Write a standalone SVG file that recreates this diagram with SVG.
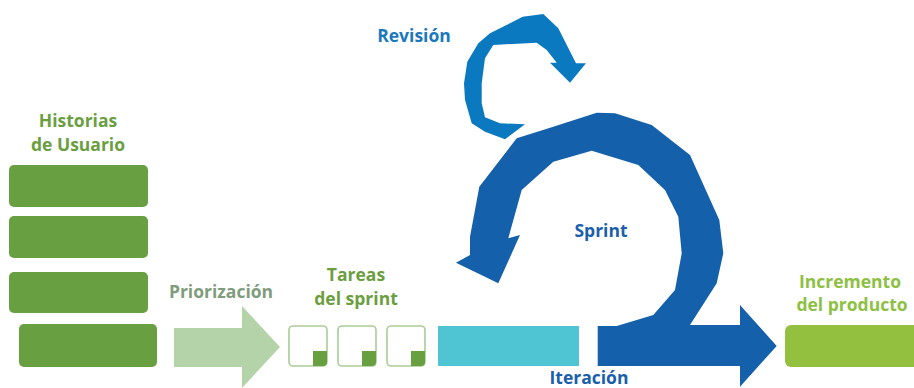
<svg xmlns="http://www.w3.org/2000/svg" width="914" height="388" viewBox="0 0 914 388">
<style>
text{font-family:"Open Sans","Noto Sans","Liberation Sans",sans-serif;font-weight:bold;font-size:17.5px;text-anchor:middle}
.story{fill:#689f41}
.task{fill:#fff;stroke:#a9cd96;stroke-width:1.6}
.corner{fill:#689f41}
.gtext{fill:#6a9e3f}
.ptext{fill:#7f9c7d}
.btext{fill:#1a5fab}
.rtext{fill:#1a78bd}
.itext{fill:#8dc043}
</style>
<rect width="914" height="388" fill="#fff"/>
<g id="historias">
<text class="gtext" x="78" y="127">Historias</text>
<text class="gtext" x="78" y="151">de Usuario</text>
<rect class="story" x="9" y="165" width="139" height="42" rx="5"/>
<rect class="story" x="9" y="216" width="139" height="42" rx="5"/>
<rect class="story" x="9" y="272" width="139" height="41" rx="5"/>
<rect class="story" x="19" y="324" width="138" height="43" rx="5"/>
</g>
<g id="priorizacion">
<text class="ptext" x="221" y="298">Priorización</text>
</g>
<g id="tareas">
<text class="gtext" x="356" y="281">Tareas</text>
<text class="gtext" x="356" y="305">del sprint</text>
<rect class="task" x="289" y="326" width="38" height="40" rx="4"/>
<path class="corner" d="M313 351H327V362Q327 366 323 366H313Z"/>
<rect class="task" x="338" y="326" width="38" height="40" rx="4"/>
<path class="corner" d="M362 351H376V362Q376 366 372 366H362Z"/>
<rect class="task" x="387" y="326" width="38" height="40" rx="4"/>
<path class="corner" d="M411 351H425V362Q425 366 421 366H411Z"/>
</g>
<g id="iteracion">
<rect x="438" y="326" width="141" height="40" fill="#4fc4d3"/>
<text class="btext" x="589" y="384">Iteración</text>
</g>
<g id="sprint">
<text class="btext" x="601" y="237">Sprint</text>
</g>
<g id="revision">
<text class="rtext" x="414" y="42">Revisión</text>
</g>
<g id="incremento">
<text class="itext" x="850" y="288">Incremento</text>
<text class="itext" x="852" y="311">del producto</text>
<rect x="785" y="325" width="135" height="42" rx="6" fill="#93c13f"/>
</g>
<g id="connectors">
<path d="M174 328H242V306L280 347L242 388V367H174Z" fill="#b5d3a8"/>
<path d="M597.7 326H616.7L653.3 315L675 290L681.7 253.3L678.3 216.7L665 190L638.3 165L591.7 150.7L553.3 161.7L521.7 190L508.3 238.3L520 235L498.3 283.3L456 262.7L470 255L470 236.7L479.3 186.7L516.7 138.3L553.3 126.7L596.7 112.7L615 113.3L651.7 125L690 155L719.3 220L723.3 253.3L716.7 283.3L690 325H740V305L776.7 346L740 386.7V366H597.7Z" fill="#1560ab"/>
<path d="M543.3 14L558.3 28.3L576 63.3L586 63.3L570 82.7L550 62.7L556.7 62.7L546.7 50L536.7 42.7L493.3 45L485 58.3L481.7 83.3L481.7 103.3L485 117.3L500 123.3L525 124.3L505 139.3L485 131.7L471.7 123.3L465 100L464 83.3L467.3 61.7L478.3 43.3L490 33.3L522.7 16.7Z" fill="#0b79c0"/>
</g>
</svg>
